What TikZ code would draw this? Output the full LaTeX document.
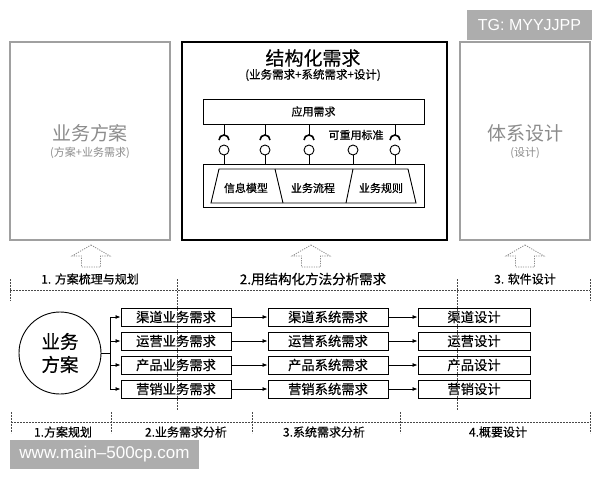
\documentclass[tikz,border=0pt]{standalone}
\usepackage{fontspec}
\setmainfont{Noto Sans CJK SC}[FakeBold=0.35]
\newfontfamily\plaincjk{Noto Sans CJK SC}
\newfontfamily\wmfont{Liberation Sans}
\usetikzlibrary{arrows.meta}
\definecolor{bordergray}{HTML}{A0A0A0}
\definecolor{textgray}{HTML}{8C8C8C}
\definecolor{wmgray}{HTML}{ADADAD}
\definecolor{dashgray}{HTML}{4A4A4A}
\begin{document}
\begin{tikzpicture}[x=1pt,y=-1pt,
  sidebox/.style={draw=bordergray, line width=1.1pt, inner sep=0, minimum height=198pt},
  mainbox/.style={draw=black, line width=1.6pt, inner sep=0, minimum height=198pt, minimum width=265pt},
  inbox/.style={draw=black, line width=0.9pt, inner sep=0, minimum width=221pt},
  rowbox/.style={draw=black, line width=0.9pt, inner sep=0, minimum height=18pt, font=\fontsize{13.3}{13.3}\selectfont},
  wmbox/.style={fill=wmgray, text=white, inner sep=0, font=\wmfont},
  lbl/.style={inner sep=0, font=\fontsize{12}{12}\selectfont},
  small/.style={inner sep=0, font=\fontsize{11}{11}\selectfont},
  graytitle/.style={inner sep=0, text=textgray, font=\plaincjk\fontsize{19}{19}\selectfont},
  graysub/.style={inner sep=0, text=textgray, font=\plaincjk\fontsize{11}{11}\selectfont},
  phase/.style={draw=dashgray, line width=0.8pt, dash pattern=on 1.6pt off 1.4pt},
  uparrow/.style={draw=textgray, line width=0.8pt, dash pattern=on 1.2pt off 1.2pt},
  arr/.style={draw=black, line width=0.8pt, -{Latex[length=5pt,width=4pt]}},
  lolly/.style={draw=black, circle, line width=0.9pt, minimum size=10pt, inner sep=0},
  conn/.style={draw=black, line width=0.9pt}
]
\useasboundingbox (0,0) rectangle (600,480);
\fill[white] (0,0) rectangle (600,480);

% watermark top
\node[wmbox, minimum width=125pt, minimum height=30pt, font=\wmfont\fontsize{16}{16}\selectfont] (tg) at (529.5,25) {TG: MYYJJPP};

% side boxes
\node[sidebox, minimum width=160pt] (left) at (90,141) {};
\node[graytitle] (lefttitle) at (90,133) {业务方案};
\node[graysub] (leftsub) at (90,153) {(方案+业务需求)};

\node[sidebox, minimum width=130pt] (right) at (525,141) {};
\node[graytitle] (righttitle) at (525,133) {体系设计};
\node[graysub] (rightsub) at (525,153) {(设计)};

% main box
\node[mainbox] (main) at (314.5,141) {};
\node[inner sep=0, font=\fontsize{19}{19}\selectfont] (maintitle) at (313,58) {结构化需求};
\node[inner sep=0, font=\fontsize{11.5}{11.5}\selectfont] (mainsub) at (313,75) {(业务需求+系统需求+设计)};

\node[inbox, minimum height=25pt, small] (app) at (313.5,111.5) {应用需求};
\node[inbox, minimum height=43pt] (bot) at (313.5,185.5) {};

% trapezoid segments
\draw[conn] (219,169) -- (408,169) -- (416,203) -- (211,203) -- cycle;
\draw[conn] (275,169) -- (283,203);
\draw[conn] (353,169) -- (346,203);
\node[small] (m1) at (246,188) {信息模型};
\node[small] (m2) at (313,188) {业务流程};
\node[small] (m3) at (381,188) {业务规则};

% lollipops
\node[small] (reuse) at (356,135) {可重用标准};
\foreach \i/\x in {1/224,2/265,3/309,4/353,5/395}{
  \node[lolly] (c\i) at (\x,150) {};
  \draw[conn] (c\i.south) -- (c\i.south |- bot.north);
}
\foreach \i/\x in {1/224,2/265,3/309,5/395}{
  \coordinate (s\i) at (\x,135);
  \draw[conn] (s\i |- app.south) -- (s\i);
  \draw[draw=black, line width=1.6pt] (\x-5,140) .. controls (\x-5,137.24) and (\x-2.76,135) .. (s\i)
     .. controls (\x+2.76,135) and (\x+5,137.24) .. (\x+5,140);
}

% up arrows
\foreach \cx in {91,311,525}{
  \draw[uparrow] (\cx,245) -- (\cx+19,256) -- (\cx+9.5,256) -- (\cx+9.5,267) -- (\cx-9.5,267) -- (\cx-9.5,256) -- (\cx-19,256) -- cycle;
}

% top phase labels
\node[lbl] (p1) at (90,279) {1. 方案梳理与规划};
\node[lbl, font=\fontsize{13.5}{13.5}\selectfont] (p2) at (313,279) {2.用结构化方法分析需求};
\node[lbl] (p3) at (525,279) {3. 软件设计};
\draw[phase] (10,290) -- (590,290);
\draw[phase] (10,279) -- (10,301);
\draw[phase] (590,279) -- (590,301);
\draw[phase] (177,279) -- (177,410);
\draw[phase] (457,279) -- (457,410);

% circle
\node[draw=black, circle, line width=0.9pt, minimum size=82pt, inner sep=0, align=center, font=\fontsize{18.5}{23}\selectfont] (plan) at (60,353) {业务\\方案};
\coordinate (br) at (110,353);
\draw[conn] (plan.east) -- (br);

% rows
\foreach \r/\y/\a/\b/\c in {1/317/渠道业务需求/渠道系统需求/渠道设计,
                          2/341/运营业务需求/运营系统需求/运营设计,
                          3/365/产品业务需求/产品系统需求/产品设计,
                          4/389/营销业务需求/营销系统需求/营销设计}{
  \node[rowbox, fill=white, minimum width=110pt] (a\r) at (176,\y) {\a};
  \node[rowbox, fill=white, minimum width=120pt] (b\r) at (328,\y) {\b};
  \node[rowbox, fill=white, minimum width=112pt] (d\r) at (474,\y) {\c};
  \draw[arr] (br) |- (a\r.west);
  \draw[arr] (a\r.east) -- (b\r.west);
  \draw[arr] (b\r.east) -- (d\r.west);
}
% dashed verticals pass over the row boxes as in reference
\draw[phase] (177,300) -- (177,410);
\draw[phase] (457,300) -- (457,410);

% bottom phase line
\draw[phase] (11,422) -- (590,422);
\foreach \x in {11,111,252,400,590}{
  \draw[phase] (\x,412) -- (\x,433);
}
\node[lbl] (q1) at (63,432) {1.方案规划};
\node[lbl] (q2) at (186,432) {2.业务需求分析};
\node[lbl] (q3) at (324,432) {3.系统需求分析};
\node[lbl] (q4) at (498,432) {4.概要设计};

% watermark bottom
\node[wmbox, minimum width=189pt, minimum height=29pt, font=\wmfont\fontsize{17}{17}\selectfont] (wm) at (104.5,454.5) {www.main–500cp.com};
\end{tikzpicture}
\end{document}
